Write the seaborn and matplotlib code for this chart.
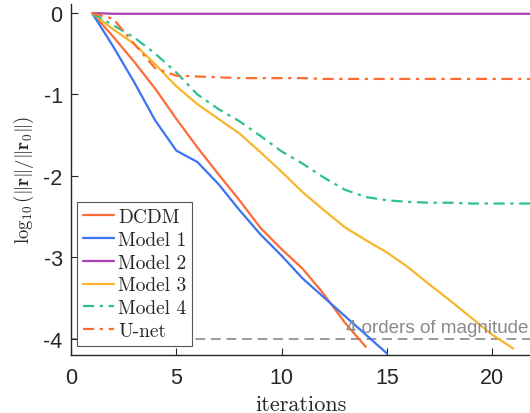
import matplotlib
matplotlib.use("Agg")
import matplotlib.pyplot as plt
import seaborn as sns
import numpy as np
import pandas as pd

# ---- data ----
it_dcdm = [1, 2, 3, 4, 5, 6, 7, 8, 9, 10, 11, 12, 13, 14]
dcdm = [0, -0.29, -0.6, -0.93, -1.3, -1.65, -1.98, -2.3, -2.64, -2.9, -3.14, -3.45, -3.8, -4.1]

it_m1 = [1, 2, 3, 4, 5, 6, 7, 8, 9, 10, 11, 12, 13, 14, 15]
model1 = [0, -0.41, -0.85, -1.32, -1.69, -1.83, -2.1, -2.42, -2.72, -2.98, -3.26, -3.49, -3.72, -3.95, -4.18]

it_m2 = list(range(1, 23))
model2 = [0, -0.01, -0.01, -0.01, -0.01, -0.01, -0.01, -0.01, -0.01, -0.01, -0.01,
          -0.01, -0.01, -0.01, -0.01, -0.01, -0.01, -0.01, -0.01, -0.01, -0.01, -0.01]

it_m3 = list(range(1, 22))
model3 = [0, -0.2, -0.38, -0.63, -0.9, -1.12, -1.3, -1.48, -1.71, -1.95, -2.2, -2.42,
          -2.63, -2.79, -2.94, -3.12, -3.33, -3.53, -3.74, -3.95, -4.12]

it_m4 = list(range(1, 23))
model4 = [0, -0.15, -0.3, -0.5, -0.73, -1.0, -1.18, -1.33, -1.51, -1.7, -1.85, -2.02,
          -2.17, -2.26, -2.3, -2.32, -2.33, -2.33, -2.34, -2.34, -2.34, -2.34]

it_un = list(range(1, 23))
unet = [0, -0.07, -0.38, -0.68, -0.77, -0.78, -0.79, -0.8, -0.8, -0.8, -0.8, -0.81,
        -0.81, -0.81, -0.81, -0.81, -0.81, -0.81, -0.81, -0.81, -0.81, -0.81]

series_names = ["DCDM", "Model 1", "Model 2", "Model 3", "Model 4", "U-net"]
series_x = [it_dcdm, it_m1, it_m2, it_m3, it_m4, it_un]
series_y = [dcdm, model1, model2, model3, model4, unet]
colors = ["#FF6B35", "#3B74F2", "#A940B5", "#F7B52C", "#2DC28C", "#FF6B35"]
styles = ["-", "-", "-", "-", (0, (5, 2.5, 1.5, 2.5)), (0, (5, 2.5, 1.5, 2.5))]

threshold = -4
threshold_label = "4 orders of magnitude"
xticks = [0, 5, 10, 15, 20]
yticks = [0, -1, -2, -3, -4]

# ---- plot ----
sns.set_theme(style="white")
plt.rcParams["mathtext.fontset"] = "cm"
plt.rcParams["font.family"] = ["Liberation Sans", "DejaVu Sans"]

fig = plt.figure(figsize=(5.3, 4.14), dpi=100)
ax = fig.add_axes([71 / 530, 1 - 356 / 414, 459 / 530, 351 / 414])

for name, xs, ys, c, ls in zip(series_names, series_x, series_y, colors, styles):
    df = pd.DataFrame({"it": xs, "val": ys})
    sns.lineplot(data=df, x="it", y="val", ax=ax, color=c, linestyle=ls, linewidth=1.6,
                 label=name)

ax.axhline(threshold, color="#9a9a9a", linestyle=(0, (5, 3)), linewidth=1.4, zorder=0)
ax.text(21.75, threshold + 0.035, threshold_label, ha="right", va="bottom",
        color="#8a8a8a", fontsize=13.6)

ax.set_xlim(0, 21.8)
ax.set_ylim(-4.2, 0.11)
ax.set_xticks(xticks)
ax.set_yticks(yticks)
ax.set_xticklabels([str(t) for t in xticks])
ax.set_yticklabels([str(t) for t in yticks])
ax.tick_params(axis="both", direction="in", length=5, width=0.8, labelsize=15.5,
               colors="#262626", bottom=True, left=True)
ax.tick_params(axis="x", pad=9)
ax.tick_params(axis="y", pad=6)
for s in ["top", "right"]:
    ax.spines[s].set_visible(False)
for s in ["left", "bottom"]:
    ax.spines[s].set_color("#262626")
    ax.spines[s].set_linewidth(1.0)

ax.set_xlabel("iterations", fontsize=16, family="cmr10", labelpad=4)
ax.set_ylabel(r"$\log_{10}(\|\mathbf{r}\|/\|\mathbf{r}_0\|)$", fontsize=13.5, labelpad=5)

leg = ax.legend(loc="lower left", bbox_to_anchor=(0.014, 0.026),
                prop={"family": "cmr10", "size": 14},
                frameon=True, fancybox=False, edgecolor="#555555", framealpha=1,
                handlelength=1.6, handletextpad=0.2, borderpad=0.3, labelspacing=0.25,
                borderaxespad=0)
leg.get_frame().set_linewidth(0.8)
leg.set_zorder(5)

fig.savefig("out.png", dpi=100)
